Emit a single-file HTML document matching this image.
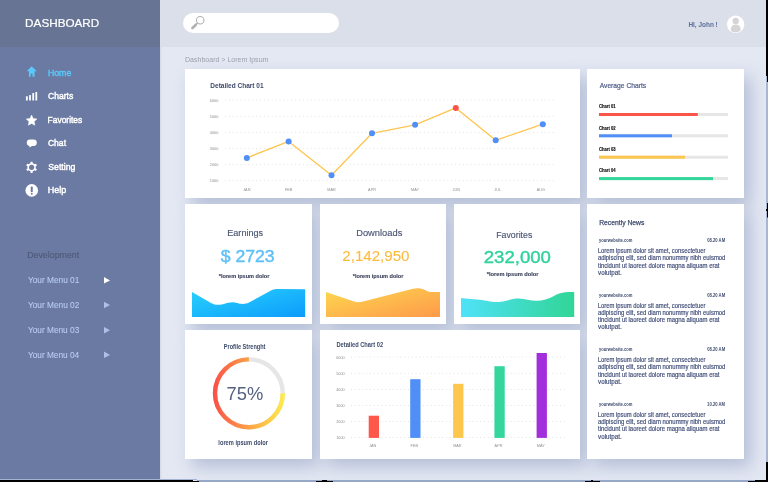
<!DOCTYPE html>
<html><head><meta charset="utf-8">
<style>
*{margin:0;padding:0;box-sizing:border-box}
html,body{width:768px;height:482px;overflow:hidden;background:#e4e8f3;font-family:"Liberation Sans",sans-serif}
.abs{position:absolute}
.sh{position:absolute;box-shadow:7px 8px 16px rgba(125,142,182,.45);background:#c9d1e3}
.card{position:absolute;background:#fff}
svg text{font-family:"Liberation Sans",sans-serif}
</style></head><body>
<div class="abs" style="left:0;top:0;width:160px;height:482px;background:#6a7aa2"></div>
<div class="abs" style="left:0;top:0;width:160px;height:47px;background:#677494"></div>
<div class="abs" style="left:160px;top:0;width:608px;height:47px;background:#dadfe9"></div>
<div class="abs" style="left:160px;top:47px;width:2px;height:433px;background:linear-gradient(90deg,#d2d8e6,#e2e6f1)"></div>

<div class="sh" style="left:185px;top:69px;width:395px;height:129px"></div>
<div class="sh" style="left:587px;top:69px;width:157px;height:129px"></div>
<div class="sh" style="left:185px;top:204px;width:127px;height:120px"></div>
<div class="sh" style="left:320px;top:204px;width:126px;height:120px"></div>
<div class="sh" style="left:454px;top:204px;width:126px;height:120px"></div>
<div class="sh" style="left:587px;top:204px;width:157px;height:255px"></div>
<div class="sh" style="left:185px;top:330px;width:127px;height:129px"></div>
<div class="sh" style="left:320px;top:330px;width:260px;height:129px"></div>

<div class="card" style="left:185px;top:69px;width:395px;height:129px"></div>
<div class="card" style="left:587px;top:69px;width:157px;height:129px"></div>
<div class="card" style="left:185px;top:204px;width:127px;height:120px"></div>
<div class="card" style="left:320px;top:204px;width:126px;height:120px"></div>
<div class="card" style="left:454px;top:204px;width:126px;height:120px"></div>
<div class="card" style="left:587px;top:204px;width:157px;height:255px"></div>
<div class="card" style="left:185px;top:330px;width:127px;height:129px"></div>
<div class="card" style="left:320px;top:330px;width:260px;height:129px"></div>

<svg class="abs" style="left:0;top:0;will-change:transform" width="768" height="482" viewBox="0 0 768 482">
<defs>
 <linearGradient id="gBlue" x1="0" y1="0" x2="1" y2="1"><stop offset="0" stop-color="#2ad2fd"/><stop offset="1" stop-color="#0c9cfb"/></linearGradient>
 <linearGradient id="gYel" x1="0" y1="0" x2="1" y2="1"><stop offset="0" stop-color="#fdd84f"/><stop offset="1" stop-color="#fe9a4a"/></linearGradient>
 <linearGradient id="gGrn" x1="0" y1="0" x2="1" y2="0"><stop offset="0" stop-color="#4fe2f8"/><stop offset="1" stop-color="#31d596"/></linearGradient>
 <linearGradient id="gRing" gradientUnits="userSpaceOnUse" x1="213" y1="0" x2="285" y2="0"><stop offset="0" stop-color="#fb4e48"/><stop offset="0.5" stop-color="#fca346"/><stop offset="1" stop-color="#fdee4b"/></linearGradient>
</defs>
<!-- search -->
<rect x="183" y="13" width="156" height="20" rx="10" fill="#fff"/>
<circle cx="200.2" cy="20.3" r="3.75" fill="none" stroke="#b0b0b0" stroke-width="1.05"/>
<line x1="197.6" y1="23" x2="196" y2="24.6" stroke="#b0b0b0" stroke-width="1.3"/><line x1="195.9" y1="24.7" x2="192.4" y2="28.1" stroke="#b0b0b0" stroke-width="2.6" stroke-linecap="round"/>
<!-- avatar -->
<circle cx="735.6" cy="24.3" r="8.7" fill="#fff"/>
<clipPath id="avc"><circle cx="735.6" cy="24.3" r="8.2"/></clipPath>
<circle cx="735.7" cy="20.9" r="3.2" fill="#d5d5d5"/>
<path clip-path="url(#avc)" d="M730.9 34 L730.9 29 C730.9 26 732.8 24.5 735.7 24.5 C738.6 24.5 740.6 26 740.6 29 L740.6 34 Z" fill="#d5d5d5"/>

<!-- sidebar icons -->
<path d="M31.7 66.2 L26.6 71.2 L28.9 71.2 L28.9 76.8 L30.7 76.8 L30.7 73.7 L32.5 73.7 L32.5 76.8 L34.6 76.8 L34.6 71.2 L36.9 71.2 Z" fill="#5ac8fa"/>
<rect x="25.9" y="96.3" width="1.9" height="4.2" rx="0.5" fill="#fff"/>
<rect x="29.1" y="94.9" width="1.8" height="5.6" rx="0.5" fill="#fff"/>
<rect x="32.3" y="92.9" width="1.8" height="7.6" rx="0.5" fill="#fff"/>
<rect x="35.4" y="92" width="1.8" height="8.5" rx="0.5" fill="#fff"/>
<path d="M31.60 115.10 L33.19 118.52 L36.93 118.97 L34.17 121.53 L34.89 125.23 L31.60 123.40 L28.31 125.23 L29.03 121.53 L26.27 118.97 L30.01 118.52 Z" fill="#fff" stroke="#fff" stroke-width="0.5" stroke-linejoin="round"/>
<rect x="26.8" y="139.6" width="10" height="6.3" rx="3.15" fill="#fff"/>
<path d="M29.3 145 L29.6 147.6 L32.6 145.6 Z" fill="#fff"/>
<g transform="translate(31.6 167.3)" fill="#fff">
 <circle r="4.1"/>
 <rect x="-1.1" y="-5.6" width="2.2" height="11.2" rx="0.4"/>
 <rect x="-1.1" y="-5.6" width="2.2" height="11.2" rx="0.4" transform="rotate(60)"/>
 <rect x="-1.1" y="-5.6" width="2.2" height="11.2" rx="0.4" transform="rotate(120)"/>
 <circle r="2.6" fill="#6a7aa2"/>
</g>
<circle cx="31.75" cy="190.4" r="6.3" fill="#fff"/>
<rect x="30.75" y="186.6" width="2" height="5.6" rx="0.6" fill="#6a7aa2"/>
<rect x="30.85" y="193.1" width="1.8" height="1.5" fill="#6a7aa2"/>
<path d="M104 277.1 L110 280.4 L104 283.6 Z" fill="#fff"/>
<path d="M104 301.7 L110 305 L104 308.3 Z" fill="#aebfe8"/>
<path d="M104 327 L110 330.2 L104 333.5 Z" fill="#aebfe8"/>
<path d="M104 351.6 L110 354.9 L104 358.1 Z" fill="#aebfe8"/>

<!-- chart 01 -->
<g stroke="#dedede" stroke-width="0.9" stroke-dasharray="0.9 3" fill="none">
 <line x1="225" y1="100.2" x2="556" y2="100.2"/>
 <line x1="225" y1="116.4" x2="556" y2="116.4"/>
 <line x1="225" y1="132.5" x2="556" y2="132.5"/>
 <line x1="225" y1="148.5" x2="556" y2="148.5"/>
 <line x1="225" y1="164.6" x2="556" y2="164.6"/>
 <line x1="225" y1="180.7" x2="556" y2="180.7"/>
</g>
<g font-size="3.8" fill="#909090">
 <text x="209.8" y="101.6">6000</text>
 <text x="209.8" y="117.8">5000</text>
 <text x="209.8" y="133.9">4000</text>
 <text x="209.8" y="149.9">3000</text>
 <text x="209.8" y="166.0">2000</text>
 <text x="209.8" y="182.1">1000</text>
</g>
<g font-size="3.8" fill="#909090" text-anchor="middle">
 <text x="246.8" y="190.9">JAN</text><text x="288.6" y="190.9">FEB</text><text x="331.5" y="190.9">MAR</text><text x="372" y="190.9">APR</text>
 <text x="415.1" y="190.9">MAY</text><text x="456.3" y="190.9">JUN</text><text x="497.7" y="190.9">JUL</text><text x="540.8" y="190.9">AUG</text>
</g>
<polyline points="246.8,157.9 288.6,141.4 331.5,175.3 372,133.3 415.1,124.8 455.8,107.9 495.7,140.3 542.8,124.2" fill="none" stroke="#fdc54e" stroke-width="1.3" stroke-linejoin="round"/>
<g fill="#4f8ff7">
 <circle cx="246.8" cy="157.9" r="3"/><circle cx="288.6" cy="141.4" r="3"/><circle cx="331.5" cy="175.3" r="3"/><circle cx="372" cy="133.3" r="3"/>
 <circle cx="415.1" cy="124.8" r="3"/><circle cx="495.7" cy="140.3" r="3"/><circle cx="542.8" cy="124.2" r="3"/>
</g>
<circle cx="455.8" cy="107.9" r="3" fill="#f9534b"/>

<!-- average bars -->
<rect x="599" y="113" width="129" height="3" fill="#e6e6e6"/><rect x="599" y="113" width="98.8" height="3" fill="#fb5449"/>
<rect x="599" y="134.3" width="129" height="3" fill="#e6e6e6"/><rect x="599" y="134.3" width="73" height="3" fill="#4f8ff7"/>
<rect x="599" y="155.7" width="129" height="3" fill="#e6e6e6"/><rect x="599" y="155.7" width="86" height="3" fill="#fdc64f"/>
<rect x="599" y="177.1" width="129" height="3" fill="#e6e6e6"/><rect x="599" y="177.1" width="114" height="3" fill="#33d69a"/>

<!-- waves -->
<path d="M192 292 L211 303 C215 305.5 221 305 224 304 C228 302.5 233 301.5 237 303 C240 304 245 304.5 249 302.5 L272 290 C275 288.8 277 288.8 280 289 L305.2 289.2 L305.2 317 L192 317 Z" fill="url(#gBlue)"/>
<path d="M326 292 L354 301.5 C357 302.5 360 302.5 363 301.5 L412 289 C417 287.8 421 288 425 290 C429 292 430 292 433 292 L440 292 L440 317 L326 317 Z" fill="url(#gYel)"/>
<path d="M461 298 C470 299 480 299.5 488 301 C493 302.3 500 302.5 505 301 C510 299.5 514 298.5 519 298.6 C525 298.8 531 301 537 300.8 C543 300.6 548 299 553 296.5 C558 293.5 562 292.5 568 292 L574.2 291.9 L574.2 317 L461 317 Z" fill="url(#gGrn)"/>

<!-- ring -->
<circle cx="248.9" cy="393.3" r="33.9" fill="none" stroke="#e6e6e6" stroke-width="4.4"/>
<path d="M248.9 359.4 A33.9 33.9 0 1 0 282.8 393.3" fill="none" stroke="url(#gRing)" stroke-width="4.4"/>

<!-- chart 02 -->
<g stroke="#dedede" stroke-width="0.9" stroke-dasharray="0.9 2.9" fill="none">
 <line x1="351" y1="357.1" x2="564.5" y2="357.1"/>
 <line x1="351" y1="373.3" x2="564.5" y2="373.3"/>
 <line x1="351" y1="389.5" x2="564.5" y2="389.5"/>
 <line x1="351" y1="405.5" x2="564.5" y2="405.5"/>
 <line x1="351" y1="421.5" x2="564.5" y2="421.5"/>
 <line x1="351" y1="437.5" x2="564.5" y2="437.5"/>
</g>
<g font-size="3.8" fill="#909090">
 <text x="336.2" y="358.5">6000</text>
 <text x="336.2" y="374.7">5000</text>
 <text x="336.2" y="390.9">4000</text>
 <text x="336.2" y="406.9">3000</text>
 <text x="336.2" y="422.9">2000</text>
 <text x="336.2" y="438.9">1000</text>
</g>
<g font-size="3.8" fill="#909090" text-anchor="middle">
 <text x="372.6" y="446.8">JAN</text><text x="414.3" y="446.8">FEB</text><text x="457.4" y="446.8">MAR</text><text x="498.5" y="446.8">APR</text><text x="540.7" y="446.8">MAY</text>
</g>
<rect x="368.7" y="415.7" width="10.3" height="22.2" fill="#fd584a"/>
<rect x="410.2" y="379.2" width="10.3" height="58.7" fill="#4f8ff7"/>
<rect x="453.1" y="383.8" width="10.3" height="54.1" fill="#fdc74e"/>
<rect x="494.4" y="366.2" width="10.3" height="71.7" fill="#33d69d"/>
<rect x="536.6" y="353" width="10.3" height="84.9" fill="#a22fdb"/>


<!-- edge artifacts -->
<rect x="766" y="76" width="2" height="386" fill="#a9b6d2"/>
<rect x="766" y="0" width="2" height="76" fill="#000"/>
<rect x="767" y="76" width="1" height="6" fill="#000"/>
<rect x="767" y="203" width="1" height="14.5" fill="#000"/>
<rect x="766" y="209" width="1" height="2" fill="#000"/>
<rect x="766" y="462" width="2" height="20" fill="#000"/>
<rect x="0" y="479" width="197" height="1" fill="#a4b3d3"/>
<rect x="197" y="480" width="569" height="2" fill="#98a8c9"/>
<rect x="0" y="480" width="193" height="2" fill="#000"/>
<rect x="193" y="481" width="6" height="1" fill="#000"/>
<rect x="316" y="481" width="17" height="1" fill="#000"/>
<rect x="322" y="480" width="5" height="1" fill="#000"/>
<rect x="585" y="481" width="15" height="1" fill="#000"/>
<rect x="591" y="480" width="2" height="1" fill="#000"/>
<rect x="748" y="481" width="20" height="1" fill="#000"/>
<rect x="755" y="480" width="13" height="1" fill="#000"/>
<text x="25.14" y="27.00" font-size="11.00" fill="#ffffff" font-weight="normal" stroke="#ffffff" stroke-width="0.20" textLength="74.13" lengthAdjust="spacingAndGlyphs">DASHBOARD</text>
<text x="47.88" y="76.00" font-size="9.80" fill="#5ac8fa" font-weight="normal" stroke="#5ac8fa" stroke-width="0.45" textLength="23.43" lengthAdjust="spacingAndGlyphs">Home</text>
<text x="47.95" y="99.20" font-size="9.80" fill="#ffffff" font-weight="normal" stroke="#ffffff" stroke-width="0.45" textLength="25.31" lengthAdjust="spacingAndGlyphs">Charts</text>
<text x="47.61" y="123.00" font-size="9.80" fill="#ffffff" font-weight="normal" stroke="#ffffff" stroke-width="0.45" textLength="34.65" lengthAdjust="spacingAndGlyphs">Favorites</text>
<text x="47.95" y="146.00" font-size="9.80" fill="#ffffff" font-weight="normal" stroke="#ffffff" stroke-width="0.45" textLength="18.07" lengthAdjust="spacingAndGlyphs">Chat</text>
<text x="48.24" y="170.00" font-size="9.80" fill="#ffffff" font-weight="normal" stroke="#ffffff" stroke-width="0.45" textLength="27.25" lengthAdjust="spacingAndGlyphs">Setting</text>
<text x="47.87" y="193.00" font-size="9.80" fill="#ffffff" font-weight="normal" stroke="#ffffff" stroke-width="0.45" textLength="18.45" lengthAdjust="spacingAndGlyphs">Help</text>
<text x="27.13" y="258.00" font-size="9.20" fill="#4e5977" font-weight="normal" stroke="#4e5977" stroke-width="0.10" textLength="52.13" lengthAdjust="spacingAndGlyphs">Development</text>
<text x="27.92" y="283.10" font-size="9.40" fill="#b8cbf5" font-weight="normal" stroke="#b8cbf5" stroke-width="0.10" textLength="51.46" lengthAdjust="spacingAndGlyphs">Your Menu 01</text>
<text x="27.92" y="308.30" font-size="9.40" fill="#b8cbf5" font-weight="normal" stroke="#b8cbf5" stroke-width="0.10" textLength="51.46" lengthAdjust="spacingAndGlyphs">Your Menu 02</text>
<text x="27.92" y="333.10" font-size="9.40" fill="#b8cbf5" font-weight="normal" stroke="#b8cbf5" stroke-width="0.10" textLength="51.37" lengthAdjust="spacingAndGlyphs">Your Menu 03</text>
<text x="27.92" y="358.10" font-size="9.40" fill="#b8cbf5" font-weight="normal" stroke="#b8cbf5" stroke-width="0.10" textLength="51.28" lengthAdjust="spacingAndGlyphs">Your Menu 04</text>
<text x="688.43" y="26.90" font-size="7.00" fill="#5d6e9a" font-weight="bold" textLength="29.35" lengthAdjust="spacingAndGlyphs">HI, John !</text>
<text x="185.05" y="61.90" font-size="7.60" fill="#9aa0ab" font-weight="normal" textLength="83.35" lengthAdjust="spacingAndGlyphs">Dashboard &gt; Lorem Ipsum</text>
<text x="210.34" y="88.00" font-size="7.20" fill="#3d4a6a" font-weight="bold" textLength="53.26" lengthAdjust="spacingAndGlyphs">Detailed Chart 01</text>
<text x="599.70" y="88.30" font-size="7.60" fill="#4a5a85" font-weight="normal" stroke="#4a5a85" stroke-width="0.20" textLength="46.48" lengthAdjust="spacingAndGlyphs">Average Charts</text>
<text x="599.03" y="108.10" font-size="4.90" fill="#111111" font-weight="bold" stroke="#111111" stroke-width="0.15" textLength="16.57" lengthAdjust="spacingAndGlyphs">Chart 01</text>
<text x="599.03" y="130.10" font-size="4.90" fill="#111111" font-weight="bold" stroke="#111111" stroke-width="0.15" textLength="16.57" lengthAdjust="spacingAndGlyphs">Chart 02</text>
<text x="599.03" y="151.00" font-size="4.90" fill="#111111" font-weight="bold" stroke="#111111" stroke-width="0.15" textLength="16.57" lengthAdjust="spacingAndGlyphs">Chart 03</text>
<text x="599.03" y="172.10" font-size="4.90" fill="#111111" font-weight="bold" stroke="#111111" stroke-width="0.15" textLength="16.49" lengthAdjust="spacingAndGlyphs">Chart 04</text>
<text x="227.24" y="235.90" font-size="9.60" fill="#4a5573" font-weight="normal" stroke="#4a5573" stroke-width="0.15" textLength="35.95" lengthAdjust="spacingAndGlyphs">Earnings</text>
<text x="220.69" y="262.20" font-size="15.60" fill="#5ec0f7" font-weight="normal" stroke="#5ec0f7" stroke-width="0.40" textLength="53.88" lengthAdjust="spacingAndGlyphs">$ 2723</text>
<text x="218.80" y="277.70" font-size="6.00" fill="#333a55" font-weight="bold" stroke="#333a55" stroke-width="0.10" textLength="50.63" lengthAdjust="spacingAndGlyphs">*lorem ipsum dolor</text>
<text x="356.22" y="235.90" font-size="9.60" fill="#4a5573" font-weight="normal" stroke="#4a5573" stroke-width="0.15" textLength="46.07" lengthAdjust="spacingAndGlyphs">Downloads</text>
<text x="342.29" y="260.50" font-size="15.00" fill="#fbbb3c" font-weight="normal" stroke="#fbbb3c" stroke-width="0.10" textLength="67.25" lengthAdjust="spacingAndGlyphs">2,142,950</text>
<text x="352.80" y="277.70" font-size="6.00" fill="#333a55" font-weight="bold" stroke="#333a55" stroke-width="0.10" textLength="50.63" lengthAdjust="spacingAndGlyphs">*lorem ipsum dolor</text>
<text x="496.26" y="237.90" font-size="9.60" fill="#4a5573" font-weight="normal" stroke="#4a5573" stroke-width="0.15" textLength="36.01" lengthAdjust="spacingAndGlyphs">Favorites</text>
<text x="483.77" y="262.50" font-size="16.00" fill="#2fd49c" font-weight="normal" stroke="#2fd49c" stroke-width="0.40" textLength="67.12" lengthAdjust="spacingAndGlyphs">232,000</text>
<text x="486.80" y="275.70" font-size="6.00" fill="#333a55" font-weight="bold" stroke="#333a55" stroke-width="0.10" textLength="51.63" lengthAdjust="spacingAndGlyphs">*lorem ipsum dolor</text>
<text x="223.77" y="348.70" font-size="6.80" fill="#3d4a6a" font-weight="bold" textLength="41.68" lengthAdjust="spacingAndGlyphs">Profile Strenght</text>
<text x="226.53" y="400.10" font-size="19.00" fill="#55627f" font-weight="normal" textLength="36.74" lengthAdjust="spacingAndGlyphs">75%</text>
<text x="218.37" y="445.10" font-size="6.80" fill="#3d4a6a" font-weight="bold" textLength="49.57" lengthAdjust="spacingAndGlyphs">lorem ipsum dolor</text>
<text x="336.47" y="347.00" font-size="7.00" fill="#3d4a6a" font-weight="bold" textLength="46.58" lengthAdjust="spacingAndGlyphs">Detailed Chart 02</text>
<text x="599.22" y="225.00" font-size="7.00" fill="#3f4c6e" font-weight="normal" stroke="#3f4c6e" stroke-width="0.25" textLength="45.08" lengthAdjust="spacingAndGlyphs">Recently News</text>
<text x="599.00" y="241.90" font-size="4.60" fill="#3f4c6e" font-weight="bold" textLength="33.37" lengthAdjust="spacingAndGlyphs">yourwebsite.com</text>
<text x="707.21" y="241.90" font-size="4.60" fill="#3f4c6e" font-weight="bold" textLength="17.90" lengthAdjust="spacingAndGlyphs">08.20 AM</text>
<text x="597.65" y="253.00" font-size="6.60" fill="#414e78" font-weight="normal" stroke="#414e78" stroke-width="0.18" textLength="107.83" lengthAdjust="spacingAndGlyphs">Lorem ipsum dolor sit amet, consectetuer</text>
<text x="597.92" y="260.25" font-size="6.60" fill="#414e78" font-weight="normal" stroke="#414e78" stroke-width="0.18" textLength="127.51" lengthAdjust="spacingAndGlyphs">adipiscing elit, sed diam nonummy nibh euismod</text>
<text x="598.01" y="267.50" font-size="6.60" fill="#414e78" font-weight="normal" stroke="#414e78" stroke-width="0.18" textLength="121.42" lengthAdjust="spacingAndGlyphs">tincidunt ut laoreet dolore magna aliquam erat</text>
<text x="598.10" y="274.75" font-size="6.60" fill="#414e78" font-weight="normal" stroke="#414e78" stroke-width="0.18" textLength="23.60" lengthAdjust="spacingAndGlyphs">volutpat.</text>
<text x="599.00" y="296.50" font-size="4.60" fill="#3f4c6e" font-weight="bold" textLength="33.37" lengthAdjust="spacingAndGlyphs">yourwebsite.com</text>
<text x="707.21" y="296.50" font-size="4.60" fill="#3f4c6e" font-weight="bold" textLength="17.90" lengthAdjust="spacingAndGlyphs">08.20 AM</text>
<text x="597.65" y="307.60" font-size="6.60" fill="#414e78" font-weight="normal" stroke="#414e78" stroke-width="0.18" textLength="107.83" lengthAdjust="spacingAndGlyphs">Lorem ipsum dolor sit amet, consectetuer</text>
<text x="597.92" y="314.85" font-size="6.60" fill="#414e78" font-weight="normal" stroke="#414e78" stroke-width="0.18" textLength="127.51" lengthAdjust="spacingAndGlyphs">adipiscing elit, sed diam nonummy nibh euismod</text>
<text x="598.01" y="322.10" font-size="6.60" fill="#414e78" font-weight="normal" stroke="#414e78" stroke-width="0.18" textLength="121.42" lengthAdjust="spacingAndGlyphs">tincidunt ut laoreet dolore magna aliquam erat</text>
<text x="598.10" y="329.35" font-size="6.60" fill="#414e78" font-weight="normal" stroke="#414e78" stroke-width="0.18" textLength="23.60" lengthAdjust="spacingAndGlyphs">volutpat.</text>
<text x="599.00" y="351.10" font-size="4.60" fill="#3f4c6e" font-weight="bold" textLength="33.37" lengthAdjust="spacingAndGlyphs">yourwebsite.com</text>
<text x="707.21" y="351.10" font-size="4.60" fill="#3f4c6e" font-weight="bold" textLength="17.90" lengthAdjust="spacingAndGlyphs">08.20 AM</text>
<text x="597.65" y="362.20" font-size="6.60" fill="#414e78" font-weight="normal" stroke="#414e78" stroke-width="0.18" textLength="107.83" lengthAdjust="spacingAndGlyphs">Lorem ipsum dolor sit amet, consectetuer</text>
<text x="597.92" y="369.45" font-size="6.60" fill="#414e78" font-weight="normal" stroke="#414e78" stroke-width="0.18" textLength="127.51" lengthAdjust="spacingAndGlyphs">adipiscing elit, sed diam nonummy nibh euismod</text>
<text x="598.01" y="376.70" font-size="6.60" fill="#414e78" font-weight="normal" stroke="#414e78" stroke-width="0.18" textLength="121.42" lengthAdjust="spacingAndGlyphs">tincidunt ut laoreet dolore magna aliquam erat</text>
<text x="598.10" y="383.95" font-size="6.60" fill="#414e78" font-weight="normal" stroke="#414e78" stroke-width="0.18" textLength="23.60" lengthAdjust="spacingAndGlyphs">volutpat.</text>
<text x="599.00" y="405.70" font-size="4.60" fill="#3f4c6e" font-weight="bold" textLength="33.37" lengthAdjust="spacingAndGlyphs">yourwebsite.com</text>
<text x="707.12" y="405.70" font-size="4.60" fill="#3f4c6e" font-weight="bold" textLength="17.99" lengthAdjust="spacingAndGlyphs">10.20 AM</text>
<text x="597.65" y="416.80" font-size="6.60" fill="#414e78" font-weight="normal" stroke="#414e78" stroke-width="0.18" textLength="107.83" lengthAdjust="spacingAndGlyphs">Lorem ipsum dolor sit amet, consectetuer</text>
<text x="597.92" y="424.05" font-size="6.60" fill="#414e78" font-weight="normal" stroke="#414e78" stroke-width="0.18" textLength="127.51" lengthAdjust="spacingAndGlyphs">adipiscing elit, sed diam nonummy nibh euismod</text>
<text x="598.01" y="431.30" font-size="6.60" fill="#414e78" font-weight="normal" stroke="#414e78" stroke-width="0.18" textLength="121.42" lengthAdjust="spacingAndGlyphs">tincidunt ut laoreet dolore magna aliquam erat</text>
<text x="598.10" y="438.55" font-size="6.60" fill="#414e78" font-weight="normal" stroke="#414e78" stroke-width="0.18" textLength="23.60" lengthAdjust="spacingAndGlyphs">volutpat.</text>
</svg>
</body></html>
